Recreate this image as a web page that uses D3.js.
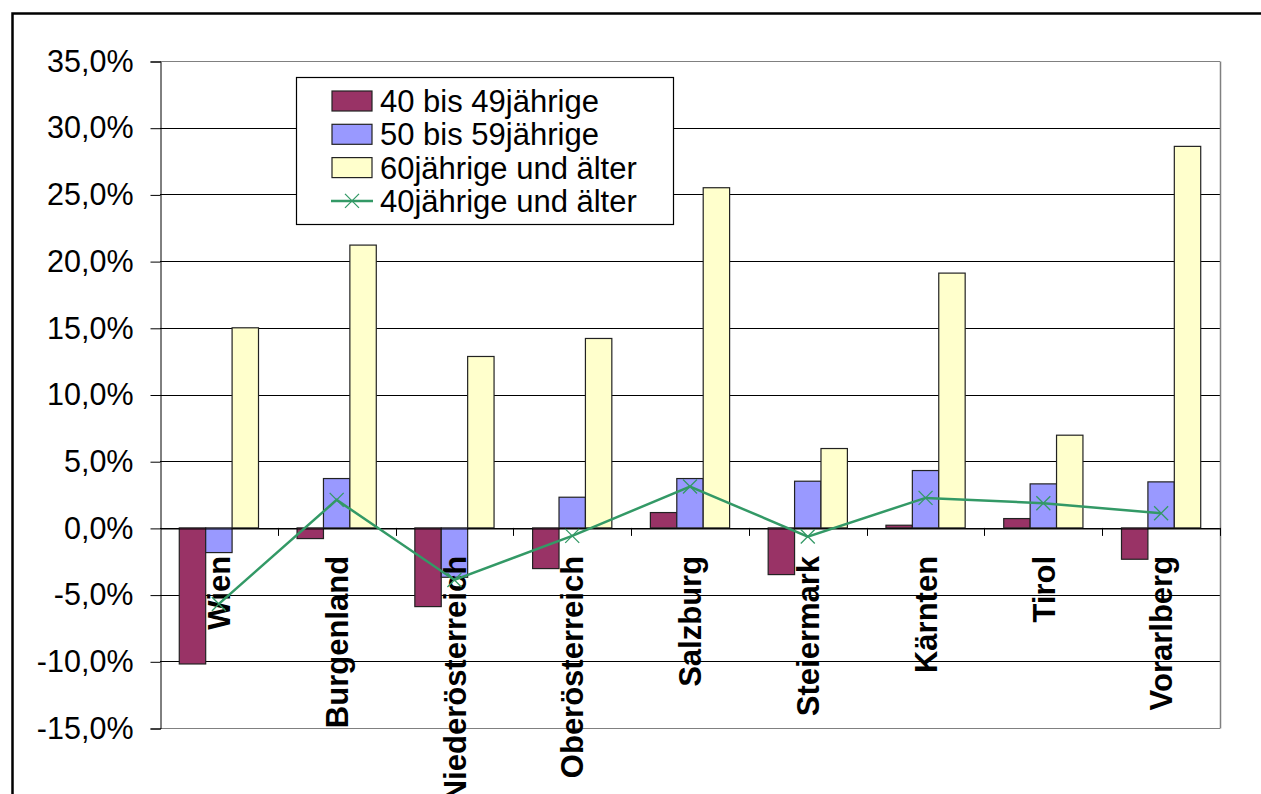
<!DOCTYPE html>
<html>
<head>
<meta charset="utf-8">
<script src="https://cdn.jsdelivr.net/npm/d3@7"></script>
<style>
  body { margin: 0; background: #fff; }
  svg { display: block; font-family: "Liberation Sans", Arial, sans-serif; }
</style>
</head>
<body>
<div id="chart"></div>
<script>
// data (percent change)
const regions = ["Wien", "Burgenland", "Niederösterreich", "Oberösterreich", "Salzburg", "Steiermark", "Kärnten", "Tirol", "Vorarlberg"];
const age40to49 = [-10.2, -0.8, -5.9, -3.05, 1.15, -3.5, 0.2, 0.7, -2.35];
const age50to59 = [-1.85, 3.7, -3.7, 2.3, 3.7, 3.5, 4.3, 3.3, 3.45];
const age60plus = [15.0, 21.2, 12.85, 14.2, 25.5, 5.95, 19.1, 6.95, 28.6];
const age40plus = [-5.7, 2.1, -3.9, -0.6, 3.1, -0.65, 2.25, 1.85, 1.1];
const yTicks = [35, 30, 25, 20, 15, 10, 5, 0, -5, -10, -15];

const barSeries = [
  {name: "40 bis 49jährige", values: age40to49, color: "#993366"},
  {name: "50 bis 59jährige", values: age50to59, color: "#9999ff"},
  {name: "60jährige und älter", values: age60plus, color: "#ffffcc"}
];
const lineName = "40jährige und älter";
const lineColor = "#339966";

const W = 1261, H = 794;
const plot = {left: 160, right: 1220, top: 61, bottom: 728};

const svg = d3.select("#chart").append("svg")
  .attr("width", W).attr("height", H);

// outer chart border (runs off the right and bottom of the picture)
svg.append("rect")
  .attr("x", 12.5).attr("y", 13.5)
  .attr("width", 1300).attr("height", 900)
  .attr("fill", "none").attr("stroke", "#000").attr("stroke-width", 2.5);

const x = d3.scaleBand().domain(regions).range([plot.left, plot.right]).paddingInner(0).paddingOuter(0);
const x1 = d3.scaleBand().domain(barSeries.map(d => d.name))
  .range([0, x.bandwidth()]).paddingInner(0).paddingOuter(0.73);
const y = d3.scaleLinear().domain([-15, 35]).range([plot.bottom, plot.top]);

const fmt = v => d3.format(".1f")(v).replace(".", ",").replace("−", "-") + "%";

// gridlines
svg.append("g").selectAll("line").data(yTicks).join("line")
  .attr("x1", plot.left).attr("x2", plot.right)
  .attr("y1", d => Math.round(y(d)) + 0.5).attr("y2", d => Math.round(y(d)) + 0.5)
  .attr("stroke", d => (d === 35 || d === -15) ? "#808080" : "#000")
  .attr("stroke-width", 1);

// plot area right border
svg.append("line")
  .attr("x1", plot.right + 0.5).attr("x2", plot.right + 0.5)
  .attr("y1", Math.round(y(35)) + 0.5).attr("y2", Math.round(y(-15)) + 0.5)
  .attr("stroke", "#808080").attr("stroke-width", 1.5);

// y axis
const yAxis = svg.append("g")
  .attr("transform", `translate(${plot.left + 0.5},0.5)`)
  .call(d3.axisLeft(y).tickValues(yTicks).tickSize(10).tickPadding(17).tickFormat(fmt));
yAxis.select(".domain").attr("stroke", "#000");
yAxis.selectAll(".tick line").attr("stroke", "#000");
yAxis.selectAll(".tick text")
  .attr("font-size", 30.5).attr("fill", "#000")
  .attr("font-family", "Liberation Sans, Arial, sans-serif");

// bars
const groups = svg.append("g").selectAll("g").data(regions).join("g")
  .attr("transform", d => `translate(${x(d)},0)`);
groups.selectAll("rect")
  .data((r, i) => barSeries.map(s => ({name: s.name, color: s.color, v: s.values[i]})))
  .join("rect")
  .attr("x", d => x1(d.name))
  .attr("width", x1.bandwidth())
  .attr("y", d => y(Math.max(0, d.v)))
  .attr("height", d => Math.abs(y(d.v) - y(0)))
  .attr("fill", d => d.color)
  .attr("stroke", "#222").attr("stroke-width", 1.2);

// category axis on the zero line
const xAxis = svg.append("g")
  .attr("transform", `translate(0.5,${Math.round(y(0)) + 0.5})`)
  .call(d3.axisBottom(x).tickSize(0).tickFormat(""));
xAxis.select(".domain").attr("stroke", "#000");
svg.append("g").selectAll("line").data(regions).join("line")
  .attr("x1", d => Math.round(x(d) + x.bandwidth()) + 0.5)
  .attr("x2", d => Math.round(x(d) + x.bandwidth()) + 0.5)
  .attr("y1", y(0)).attr("y2", y(0) + 8)
  .attr("stroke", "#000");

// category labels (rotated)
svg.append("g").selectAll("text").data(regions).join("text")
  .attr("transform", d => `translate(${x(d) + x.bandwidth() / 2},${y(0) + 28}) rotate(-90)`)
  .attr("text-anchor", "end")
  .attr("dy", "0.36em")
  .attr("font-size", 31).attr("font-weight", "bold").attr("fill", "#000")
  .text(d => d);

// line series
const pts = regions.map((r, i) => [x(r) + x.bandwidth() / 2, y(age40plus[i])]);
svg.append("path")
  .attr("d", d3.line()(pts))
  .attr("fill", "none").attr("stroke", lineColor).attr("stroke-width", 2.5);
const m = 7;
svg.append("g").selectAll("path").data(pts).join("path")
  .attr("d", p => `M${p[0] - m},${p[1] - m}L${p[0] + m},${p[1] + m}M${p[0] - m},${p[1] + m}L${p[0] + m},${p[1] - m}`)
  .attr("stroke", lineColor).attr("stroke-width", 1.3).attr("fill", "none");

// legend
const lg = svg.append("g").attr("transform", "translate(296,77)");
lg.append("rect").attr("x", 0.5).attr("y", 0.5).attr("width", 377).attr("height", 147)
  .attr("fill", "#fff").attr("stroke", "#000").attr("stroke-width", 1.2);
const rowY = i => 24 + i * 33.3;
barSeries.forEach((s, i) => {
  lg.append("rect").attr("x", 36).attr("y", rowY(i) - 10).attr("width", 40).attr("height", 20)
    .attr("fill", s.color).attr("stroke", "#222").attr("stroke-width", 1.2);
});
const ly = rowY(3);
lg.append("line").attr("x1", 35).attr("x2", 77).attr("y1", ly).attr("y2", ly)
  .attr("stroke", lineColor).attr("stroke-width", 2.5);
lg.append("path")
  .attr("d", `M${56 - m},${ly - m}L${56 + m},${ly + m}M${56 - m},${ly + m}L${56 + m},${ly - m}`)
  .attr("stroke", lineColor).attr("stroke-width", 1.3);
lg.selectAll("text.lbl").data(barSeries.map(d => d.name).concat([lineName])).join("text")
  .attr("class", "lbl")
  .attr("x", 84).attr("y", (d, i) => rowY(i))
  .attr("dy", "0.36em")
  .attr("font-size", 31).attr("fill", "#000")
  .text(d => d);
</script>
</body>
</html>
